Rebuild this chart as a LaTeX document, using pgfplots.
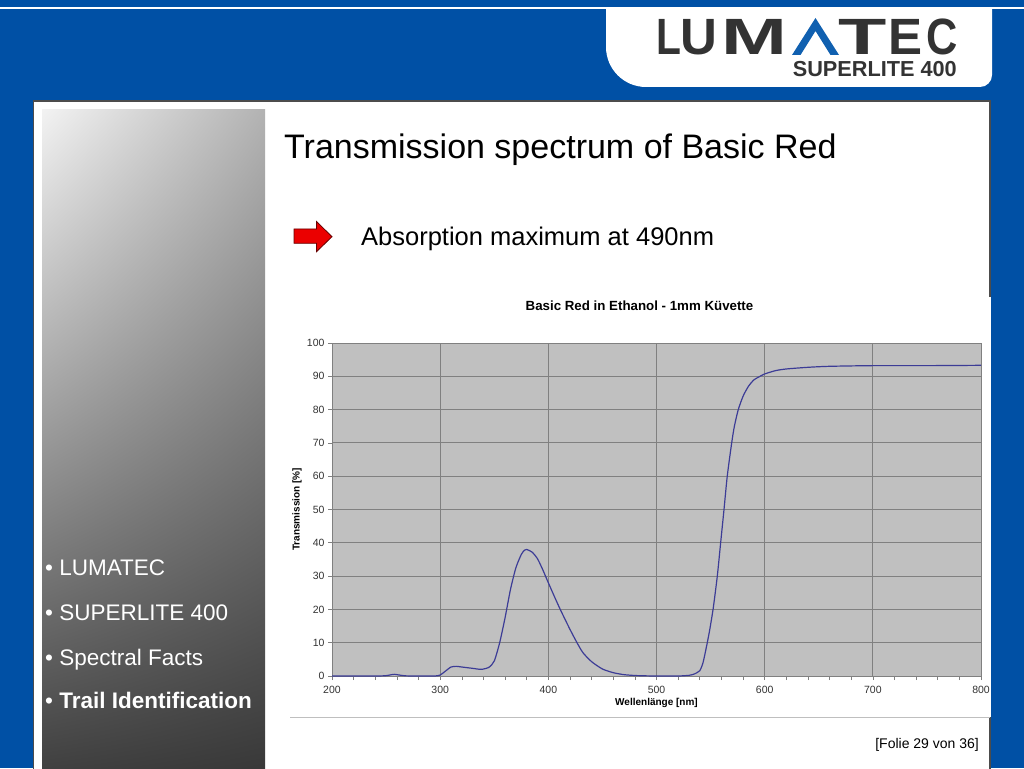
\documentclass[border=0pt]{standalone}
\usepackage{pgfplots}
\pgfplotsset{compat=1.18}
\usepackage{pgfplotstable}
\usetikzlibrary{shadings}
\usepackage{fontspec}
\setmainfont{Liberation Sans}

\definecolor{slideblue}{RGB}{0,80,165}
\definecolor{logoblue}{RGB}{16,96,176}
\definecolor{logogray}{RGB}{51,51,51}
\definecolor{plotbg}{RGB}{192,192,192}
\definecolor{gridgray}{RGB}{128,128,128}
\definecolor{curve}{RGB}{60,60,150}
\definecolor{arrowred}{RGB}{235,0,0}

% Basic Red in ethanol, 1 mm cuvette: wavelength [nm], transmission [%]
\pgfplotstableread{
wl    T
200   0
240   0
250   0.1
255   0.4
258   0.5
262   0.3
268   0.05
280   0
295   0
300   0.3
305   1.5
310   2.7
315   2.9
320   2.7
330   2.3
338   2.0
345   2.6
350   4.5
355   10
360   17.5
365   26
370   32.5
375   36.5
378   37.8
380   38
385   37.2
390   35.2
395   31.8
400   28
405   24.3
411   20
420   14
426.5 10
432   7
440   4.3
450   2.1
460   1
470   0.4
480   0.15
490   0.05
500   0
520   0
530   0.2
535   0.6
540   1.6
543   4
546   8.5
549   13.5
552.5 20.5
556.2 30
559.3 40
562.4 50
565.4 60
569.5 70
572   75
575.6 80
580   84
585   87
590   88.9
595.7 90
600   90.7
610   91.7
620   92.2
640   92.7
660   93
700   93.2
750   93.2
800   93.3
}\spectrum

\begin{document}
\begin{tikzpicture}[x=1pt,y=1pt]
\useasboundingbox (0,0) rectangle (1024,768);
% slide background
\fill[slideblue] (0,0) rectangle (1024,768);
\draw[white,line width=2pt] (0,760) -- (1024,760);
% logo box
\fill[white] (606,760) -- (992,760) -- (992,693)
  arc[start angle=0,end angle=-90,radius=12] -- (646,681)
  arc[start angle=270,end angle=180,radius=40] -- cycle;
\begin{scope}[every node/.style={anchor=base west,inner sep=0pt,text=logogray,font=\bfseries\fontsize{51}{51}\selectfont}]
  \node[xscale=0.8] at (656,713) {L};
  \node at (680.4,713) {U};
  \node[xscale=1.55] at (721.6,713) {M};
  \node[xscale=1.55] at (838.3,713) {T};
  \node at (888.3,713) {E};
  \node[xscale=0.85] at (925.9,713) {C};
\end{scope}
\fill[logoblue] (792,713) -- (815.5,750) -- (839,713) -- (830.5,713) -- (815.5,737) -- (800.5,713) -- cycle;
\node[anchor=base east,inner sep=0pt,text=logogray,font=\bfseries\fontsize{21.7}{22}\selectfont] at (957,691) {SUPERLITE 400};

% main white panel
\filldraw[fill=white,draw=black!70,line width=1.2pt] (33.5,-2) rectangle (990,667);
% left gradient panel
\shade[upper left=black!5,upper right=black!30,lower left=black!75,lower right=black!78] (42,-2) rectangle (265,658);
\begin{scope}[every node/.style={anchor=base west,inner sep=0pt,text=white,font=\fontsize{22.5}{22}\selectfont}]
  \node at (45,192) {• LUMATEC};
  \node at (45,147) {• SUPERLITE 400};
  \node at (45,103) {• Spectral Facts};
  \node at (45,60) {• \textbf{Trail Identification}};
\end{scope}

% heading and note
\node[anchor=base west,inner sep=0pt,font=\fontsize{34}{34}\selectfont] at (284,609) {Transmission spectrum of Basic Red};
\filldraw[fill=arrowred,draw=black!60!red,line width=0.8pt]
  (294,539) -- (316.5,539) -- (316.5,546.5) -- (332,531.3) -- (316.5,516.3)
  -- (316.5,524.7) -- (294,524.7) -- cycle;
\node[anchor=base west,inner sep=0pt,font=\fontsize{25.5}{26}\selectfont] at (361,522) {Absorption maximum at 490nm};

% chart object
\fill[white] (290,51) rectangle (990.6,471);
\draw[black!25,line width=0.8pt] (290,51) -- (990,51);
\node[anchor=base,inner sep=0pt,font=\bfseries\fontsize{13.3}{14}\selectfont] at (639.5,457) {Basic Red in Ethanol - 1mm Küvette};

\begin{axis}[
  at={(332pt,92pt)}, anchor=south west,
  scale only axis, width=649pt, height=333pt,
  xmin=200, xmax=800, ymin=0, ymax=100,
  xtick={200,300,...,800}, ytick={0,10,...,100},
  minor x tick num=4,
  grid=major,
  major grid style={gridgray,line width=0.8pt},
  axis line style={gridgray,line width=0.8pt},
  axis background/.style={fill=plotbg},
  tick align=outside, tick pos=left,
  major tick length=4pt, minor tick length=4pt,
  every tick/.style={gridgray,line width=0.6pt},
  ticklabel style={font=\fontsize{10.5}{12}\selectfont,text=logogray},
  xticklabel style={yshift=-3pt},
  /pgf/number format/assume math mode=true,
  xlabel={Wellenlänge [nm]},
  ylabel={Transmission [\%]},
  every axis x label/.style={at={(axis description cs:0.5,-0.081)},anchor=center,
    font=\bfseries\fontsize{10}{12}\selectfont},
  every axis y label/.style={at={(axis description cs:-0.054,0.5)},anchor=center,rotate=90,
    font=\bfseries\fontsize{10}{12}\selectfont},
]
\addplot[curve,line width=1.2pt,smooth,tension=0.4] table[x=wl,y=T] {\spectrum};
\end{axis}

\node[anchor=base east,inner sep=0pt,font=\fontsize{14}{14}\selectfont] at (979,20) {[Folie 29 von 36]};
\end{tikzpicture}
\end{document}
